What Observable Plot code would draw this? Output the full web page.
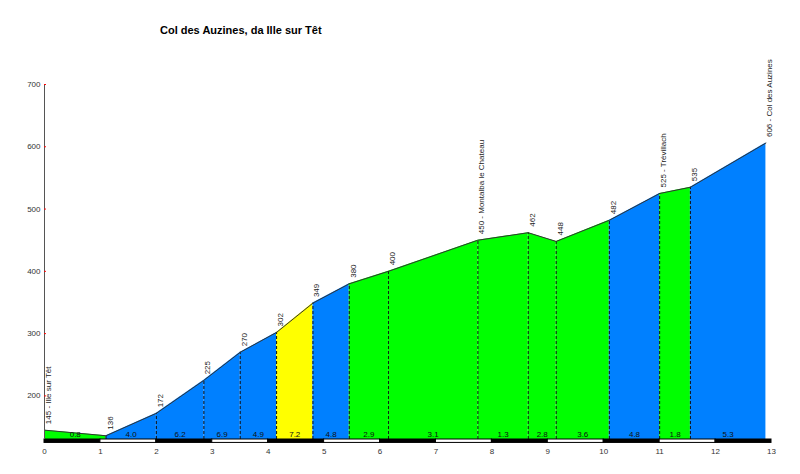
<!DOCTYPE html>
<html>
<head>
<meta charset="utf-8">
<script src="https://cdn.jsdelivr.net/npm/d3@7"></script>
<script src="https://cdn.jsdelivr.net/npm/@observablehq/plot@0.6"></script>
<style>
  html, body { margin: 0; padding: 0; background: white; }
  #title { height: 40px; position: relative; }
  #title span { position: absolute; left: 160px; top: 24px; font: bold 11px "Liberation Sans", Arial, sans-serif; color: #000; white-space: nowrap; }
</style>
</head>
<body>
<div id="title"><span>Col des Auzines, da Ille sur Têt</span></div>
<div id="chart"></div>
<script>
// Distance (km) and elevation (m) of each profile point
const km    = [0, 1.1, 2.0, 2.85, 3.5, 4.15, 4.8, 5.45, 6.15, 7.75, 8.65, 9.15, 10.1, 11.0, 11.55, 12.9];
const elev  = [145, 136, 172, 225, 270, 302, 349, 380, 400, 450, 462, 448, 482, 525, 535, 606];
const names = ["Ille sur Têt", "", "", "", "", "", "", "", "", "Montalba le Chateau", "", "", "", "Trévillach", "", "Col des Auzines"];
// Gradient (%) of each segment as printed, and its colour class
const gradients = ["0.8", "4.0", "6.2", "6.9", "4.9", "7.2", "4.8", "2.9", "3.1", "1.3", "2.8", "3.6", "4.8", "1.8", "5.3"];
const segClass  = ["g", "b", "b", "b", "b", "y", "b", "g", "g", "g", "g", "g", "b", "g", "b"];
const classColor = {g: "#00ff00", b: "#0080ff", y: "#ffff00"};
const yTicks = [200, 300, 400, 500, 600, 700];
const xTicks = [0, 1, 2, 3, 4, 5, 6, 7, 8, 9, 10, 11, 12, 13];
const yBase = 130, yMax = 700, barLow = 124.5;

const points = km.map((x, i) => ({x, y: elev[i], label: names[i] ? `${elev[i]} - ${names[i]}` : `${elev[i]}`}));
const segRows = [];
gradients.forEach((g, i) => {
  segRows.push({seg: i, x: km[i], y: elev[i], c: classColor[segClass[i]]});
  segRows.push({seg: i, x: km[i + 1], y: elev[i + 1], c: classColor[segClass[i]]});
});
const segLabels = gradients.map((g, i) => ({x: (km[i] + km[i + 1]) / 2, g}));
const barRows = xTicks.slice(0, -1).map(k => ({x1: k, x2: k + 1, c: k % 2 === 0 ? "black" : "white"}));

const chart = Plot.plot({
  width: 800,
  height: 434,
  marginTop: 44,
  marginLeft: 44,
  marginRight: 29,
  marginBottom: 35,
  style: {fontFamily: "'Liberation Sans', Arial, sans-serif", fontSize: "8px", background: "white", overflow: "visible"},
  x: {domain: [0, 13]},
  y: {domain: [yBase, yMax]},
  color: {type: "identity"},
  marks: [
    Plot.areaY(segRows, {x: "x", y1: () => yBase, y2: "y", z: "seg", fill: "c"}),
    Plot.ruleX(points.slice(1, -1), {x: "x", y1: () => yBase, y2: "y", stroke: "#111", strokeDasharray: "3,2", strokeWidth: 1}),
    Plot.line(points, {x: "x", y: "y", stroke: "#333", strokeWidth: 1}),
    Plot.rect(barRows, {x1: "x1", x2: "x2", y1: () => barLow, y2: () => yBase, fill: "c", stroke: "black", strokeWidth: 1}),
    Plot.text(points, {x: "x", y: "y", text: "label", rotate: -90, textAnchor: "start", lineAnchor: "middle", dx: 4, dy: -6, fill: "#222", fontSize: 8}),
    Plot.text(segLabels, {x: "x", y: () => yBase, text: "g", lineAnchor: "bottom", dy: -2.5, fill: "#111", fontSize: 8}),
    Plot.ruleX([0], {y1: yBase, y2: yMax, stroke: "#555"}),
    Plot.ruleY(yTicks, {x1: 0, x2: 0.035, stroke: "red"}),
    Plot.axisY({ticks: yTicks, tickSize: 0, tickPadding: 4, fill: "#333", label: null}),
    Plot.axisX({ticks: xTicks, tickSize: 0, tickPadding: 9, fill: "#333", label: null})
  ]
});
document.getElementById("chart").appendChild(chart);
</script>
</body>
</html>
